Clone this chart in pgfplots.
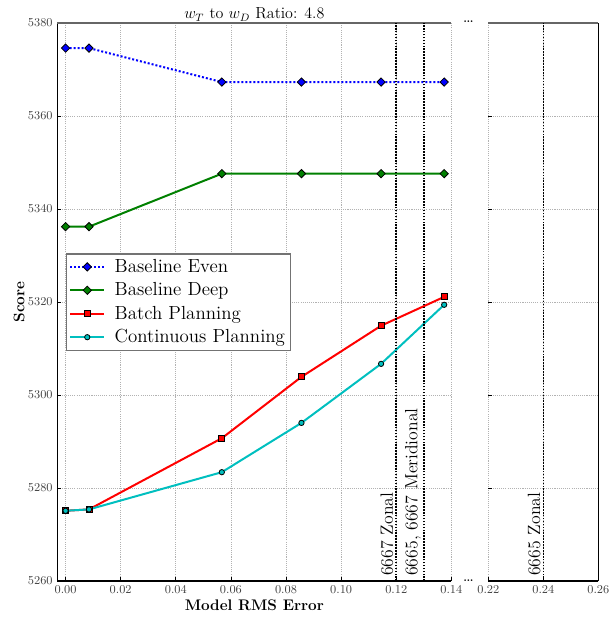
\documentclass[border=0pt]{standalone}
\usepackage{pgfplots}
\pgfplotsset{compat=1.18}
\definecolor{mplgreen}{rgb}{0,0.5,0}
\definecolor{mplcyan}{rgb}{0,0.75,0.75}

\pgfplotsset{
  brokenbase/.style={
    scale only axis,
    height=418.5pt,
    ymin=5260, ymax=5380,
    ytick={5260,5280,5300,5320,5340,5360,5380},
    axis x line*=bottom, axis y line*=left,
    axis line style={-, line width=0.8pt},
    tick align=inside, major tick length=3pt,
    tick style={black, line width=0.6pt},
    grid=major,
    major grid style={gray!60, line width=0.5pt, dash pattern=on 0.8pt off 0.8pt},
    tick label style={font=\fontsize{9.3}{11}\selectfont, text=black!75},
    xticklabel style={/pgf/number format/.cd, fixed, fixed zerofill, precision=2},
    yticklabel style={/pgf/number format/1000 sep={}},
    clip=false,
  },
  vline/.style={black, line width=1.2pt, dash pattern=on 1.2pt off 1pt, forget plot},
}
\tikzset{vlabel/.style={rotate=90, anchor=south west, inner sep=2pt, font=\fontsize{13.3}{15}\selectfont}}

\begin{document}
\begin{tikzpicture}
\begin{axis}[
  brokenbase, name=L,
  width=295.5pt,
  xmin=-0.003, xmax=0.14,
  xtick={0,0.02,0.04,0.06,0.08,0.10,0.12,0.14},
  title={$w_T$ to $w_D$ Ratio: 4.8},
  title style={at={(axis description cs:0.5,1.0076)}, anchor=base, yshift=-6pt, font=\fontsize{12}{14}\selectfont},
  xlabel={Model RMS Error},
  xlabel style={at={(axis description cs:0.5,-0.052)}, anchor=base, font=\fontsize{11.5}{13}\selectfont\bfseries},
  ylabel={Score},
  ylabel style={at={(axis description cs:-0.0838,0.5)}, anchor=base, font=\fontsize{11.5}{13}\selectfont\bfseries},
  legend style={at={(0.022,0.587)}, anchor=north west, draw=black!55, line width=0.8pt, fill=white,
    font=\fontsize{14.2}{16}\selectfont, row sep=2.2pt, column sep=5pt, inner sep=2pt},
  legend cell align=left,
  legend image code/.code={\draw[mark repeat=2, mark phase=2] plot coordinates {(0cm,0cm) (0.45cm,0cm) (0.9cm,0cm)};},
]
\draw[black!60, line width=0.8pt] (rel axis cs:0,1) -- (rel axis cs:1,1);

\addplot[blue, line width=1.5pt, dash pattern=on 1.5pt off 1.5pt,
  mark=square*, mark size=2.2pt, mark options={solid, rotate=45, fill=blue, draw=black, line width=0.6pt}]
  coordinates {(0,5374.6) (0.0085,5374.6) (0.0567,5367.3) (0.0856,5367.3) (0.1145,5367.3) (0.1374,5367.3)};
\addlegendentry{Baseline Even}
\addplot[mplgreen, line width=1.5pt,
  mark=square*, mark size=2.2pt, mark options={solid, rotate=45, fill=mplgreen, draw=black, line width=0.6pt}]
  coordinates {(0,5336.2) (0.0085,5336.2) (0.0567,5347.6) (0.0856,5347.6) (0.1145,5347.6) (0.1374,5347.6)};
\addlegendentry{Baseline Deep}
\addplot[red, line width=1.5pt,
  mark=square*, mark size=2.25pt, mark options={solid, fill=red, draw=black, line width=0.6pt}]
  coordinates {(0,5275.1) (0.0085,5275.4) (0.0567,5290.7) (0.0856,5303.9) (0.1145,5314.9) (0.1374,5321.1)};
\addlegendentry{Batch Planning}
\addplot[mplcyan, line width=1.5pt,
  mark=*, mark size=2pt, mark options={solid, fill=mplcyan, draw=black, line width=0.6pt}]
  coordinates {(0,5275.1) (0.0085,5275.4) (0.0567,5283.4) (0.0856,5294.0) (0.1145,5306.7) (0.1374,5319.4)};
\addlegendentry{Continuous Planning}

\addplot[vline] coordinates {(0.12,5260) (0.12,5380)};
\addplot[vline] coordinates {(0.13,5260) (0.13,5380)};
\node[vlabel] at (axis cs:0.12,5260.5) {6667 Zonal};
\node[vlabel] at (axis cs:0.13,5260.5) {6665, 6667 Meridional};
\end{axis}

\coordinate (Rsw) at ([xshift=27.75pt]L.south east);
\begin{axis}[
  brokenbase, name=R,
  at={(Rsw)}, anchor=south west,
  width=82.5pt,
  xmin=0.22, xmax=0.26,
  xtick={0.22,0.24,0.26},
  yticklabel style={text opacity=0},
  y axis line style={draw=none},
]
\draw[black!60, line width=0.8pt] (rel axis cs:0,1) -- (rel axis cs:1,1);
\draw[black, line width=0.8pt] (rel axis cs:1,0) -- (rel axis cs:1,1);
\addplot[vline] coordinates {(0.24,5260) (0.24,5380)};
\node[vlabel] at (axis cs:0.24,5260.5) {6665 Zonal};
\end{axis}

\node[anchor=base, font=\fontsize{13}{15}\selectfont] at ([xshift=12.75pt]L.north east) {\ldots};
\node[anchor=base, font=\fontsize{13}{15}\selectfont] at ([xshift=12.75pt]L.south east) {\ldots};

\pgfresetboundingbox
\path[use as bounding box] ([shift={(-43pt,-27pt)}]L.south west) rectangle ([shift={(414.5pt,435.75pt)}]L.south west);
\end{tikzpicture}
\end{document}
